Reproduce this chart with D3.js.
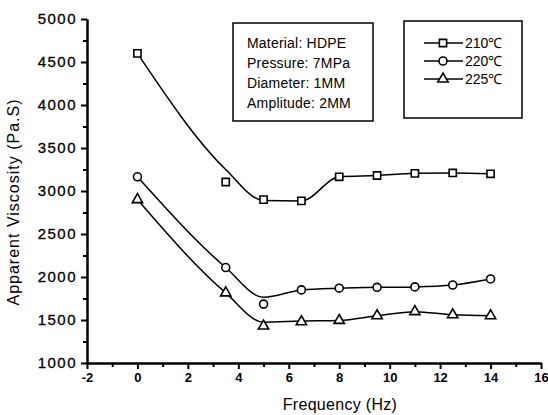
<!DOCTYPE html>
<html>
<head>
<meta charset="utf-8">
<script src="https://cdn.jsdelivr.net/npm/d3@7"></script>
<style>
  body { margin: 0; background: #fff; }
  svg { display: block; font-family: "Liberation Sans", Arial, sans-serif; }
</style>
</head>
<body>
<svg id="chart"></svg>
<script>
const freq = [0, 3.5, 5, 6.5, 8, 9.5, 11, 12.5, 14];
// measured points
const visc210 = [4600, 3105, 2900, 2885, 3165, 3180, 3205, 3210, 3200];
const visc220 = [3165, 2110, 1685, 1850, 1870, 1880, 1885, 1907, 1977];
const visc225 = [2900, 1815, 1430, 1480, 1495, 1550, 1597, 1560, 1550];
// smoothed curve as drawn in the figure
const fit210 = [4600, 3250, 2890, 2885, 3165, 3180, 3205, 3210, 3200];
const fit220 = [3165, 2110, 1765, 1850, 1870, 1880, 1885, 1907, 1977];
const fit225 = [2900, 1815, 1475, 1488, 1495, 1550, 1597, 1560, 1550];
const seriesNames = ["210℃", "220℃", "225℃"];
const markers = ["square", "circle", "triangle"];
const infoLines = ["Material: HDPE", "Pressure: 7MPa", "Diameter: 1MM", "Amplitude: 2MM"];

const width = 548, height = 415;
const margin = { top: 19, right: 7, bottom: 52, left: 87 };

const svg = d3.select("#chart").attr("width", width).attr("height", height);

const xScale = d3.scaleLinear().domain([-2, 16]).range([margin.left, width - margin.right]);
const yScale = d3.scaleLinear().domain([1000, 5000]).range([height - margin.bottom, margin.top]);

const series = [
  { name: seriesNames[0], marker: markers[0], values: visc210, fit: fit210 },
  { name: seriesNames[1], marker: markers[1], values: visc220, fit: fit220 },
  { name: seriesNames[2], marker: markers[2], values: visc225, fit: fit225 },
];

function markerPath(type) {
  if (type === "square") return d3.symbol(d3.symbolSquare, 52)();
  if (type === "circle") return d3.symbol(d3.symbolCircle, 50)();
  return d3.symbol(d3.symbolTriangle, 46)();
}

const plain = (d) => String(d);

// axes
const yMinor = d3.range(1000, 5001, 250).filter((v) => v % 500 !== 0);
const xMinor = d3.range(-1, 16, 2);

const yAxisG = svg.append("g").attr("transform", `translate(${margin.left},0)`);
yAxisG.append("g").call(d3.axisLeft(yScale).tickValues(yMinor).tickSize(4).tickSizeOuter(0).tickFormat(""));
yAxisG.append("g").call(d3.axisLeft(yScale).tickValues(d3.range(1000, 5001, 500)).tickSize(6).tickSizeOuter(0).tickPadding(4).tickFormat(plain))
  .selectAll("text")
  .attr("font-size", 15)
  .attr("letter-spacing", "1.5px")
  .attr("fill", "#000")
  .attr("stroke", "#000")
  .attr("stroke-width", 0.3);
yAxisG.selectAll("path.domain, line").attr("stroke", "#000").attr("stroke-width", 2);

const xAxisG = svg.append("g").attr("transform", `translate(0,${height - margin.bottom})`);
xAxisG.append("g").call(d3.axisBottom(xScale).tickValues(xMinor).tickSize(4).tickSizeOuter(0).tickFormat(""));
xAxisG.append("g").call(d3.axisBottom(xScale).tickValues(d3.range(-2, 17, 2)).tickSize(6).tickSizeOuter(0).tickPadding(4).tickFormat(plain))
  .selectAll("text")
  .attr("font-size", 13)
  .attr("font-weight", "bold")
  .attr("fill", "#000");
xAxisG.selectAll("path.domain, line").attr("stroke", "#000").attr("stroke-width", 2);

// axis titles
svg.append("text")
  .attr("x", 340)
  .attr("y", 410)
  .attr("text-anchor", "middle")
  .attr("font-size", 16)
  .attr("letter-spacing", "0.3px")
  .text("Frequency (Hz)");

svg.append("text")
  .attr("transform", "translate(19,202) rotate(-90)")
  .attr("text-anchor", "middle")
  .attr("font-size", 16)
  .attr("letter-spacing", "1px")
  .text("Apparent Viscosity (Pa.S)");

// curves + markers
const line = d3.line()
  .x((d) => xScale(d.f))
  .y((d) => yScale(d.v))
  .curve(d3.curveMonotoneX);

series.forEach((s) => {
  const fitPts = freq.map((f, i) => ({ f, v: s.fit[i] }));
  svg.append("path")
    .datum(fitPts)
    .attr("d", line)
    .attr("fill", "none")
    .attr("stroke", "#000")
    .attr("stroke-width", 1.5);

  svg.append("g").selectAll("path")
    .data(freq.map((f, i) => ({ f, v: s.values[i] })))
    .join("path")
    .attr("transform", (d) => `translate(${xScale(d.f)},${yScale(d.v)})`)
    .attr("d", markerPath(s.marker))
    .attr("fill", "#fff")
    .attr("stroke", "#000")
    .attr("stroke-width", 1.6);
});

// info box
const info = svg.append("g");
info.append("rect")
  .attr("x", 233).attr("y", 23).attr("width", 140).attr("height", 98)
  .attr("fill", "#fff").attr("stroke", "#000").attr("stroke-width", 1.5);
info.selectAll("text")
  .data(infoLines)
  .join("text")
  .attr("x", 247)
  .attr("y", (d, i) => 48 + i * 20)
  .attr("font-size", 14)
  .attr("letter-spacing", "0.2px")
  .text((d) => d);

// legend
const legend = svg.append("g");
legend.append("rect")
  .attr("x", 404).attr("y", 21).attr("width", 118).attr("height", 97)
  .attr("fill", "#fff").attr("stroke", "#000").attr("stroke-width", 1.5);
series.forEach((s, i) => {
  const ly = 43 + i * 18;
  legend.append("line")
    .attr("x1", 424).attr("x2", 463).attr("y1", ly).attr("y2", ly)
    .attr("stroke", "#000").attr("stroke-width", 1.5);
  legend.append("path")
    .attr("transform", `translate(443,${ly})`)
    .attr("d", markerPath(s.marker))
    .attr("fill", "#fff").attr("stroke", "#000").attr("stroke-width", 1.6);
  legend.append("text")
    .attr("x", 465).attr("y", ly + 5)
    .attr("font-size", 14)
    .text(s.name);
});
</script>
</body>
</html>
